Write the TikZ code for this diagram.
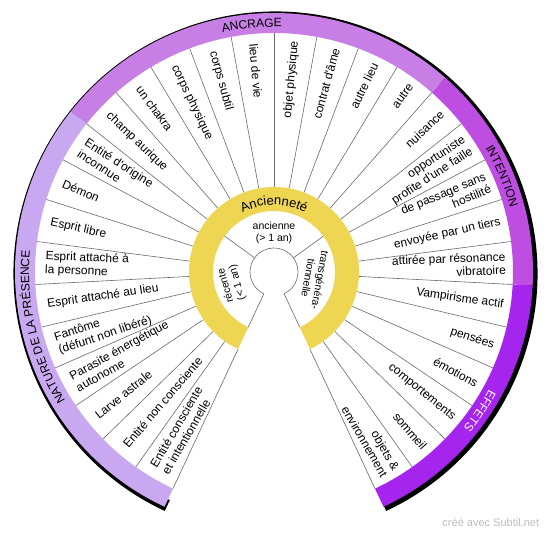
\documentclass[tikz,border=0pt]{standalone}
\usepackage{fontspec}
\setmainfont{Liberation Sans}
\usetikzlibrary{decorations.text}
\definecolor{ancrage}{HTML}{C77EE5}
\definecolor{nature}{HTML}{C8A9F1}
\definecolor{intention}{HTML}{BE4DE2}
\definecolor{effets}{HTML}{A524EE}
\definecolor{anciennete}{HTML}{EED653}
\definecolor{trait}{HTML}{6A6A6A}
\definecolor{credit}{HTML}{BDBDBD}

\begin{document}
\begin{tikzpicture}[x=1pt, y=1pt,
  sep/.style={draw=trait, line width=0.6pt},
  lbl/.style={font=\fontsize{12}{13.5}\selectfont, inner sep=0pt},
  petit/.style={font=\fontsize{10.5}{12}\selectfont, inner sep=0pt, align=center},
  bandtxt/.style={decorate, decoration={text along path, text align=center, text={#1}}}
]
  \useasboundingbox (-274,-262) rectangle (276,272);
  \fill[white] (-274,-262) rectangle (276,272);
  % shadow of the outer band
  \fill[black, shift={(1.5,-1.5)}] (-65:250) arc[start angle=-65, end angle=245, radius=250]
     -- (245:262) arc[start angle=245, end angle=-65, radius=262] -- cycle;
  % sector lines
  \foreach \k in {0,...,30}{
    \pgfmathsetmacro\ang{-65+\k*310/30}
    \draw[sep] (\ang:85) -- (\ang:239);}
  % ring of age
  \fill[anciennete] (-65:61) arc[start angle=-65, end angle=245, radius=61]
     -- (245:85) arc[start angle=245, end angle=-65, radius=85] -- cycle;
  \foreach \ang in {-65,36,144,245}{\draw[sep] (\ang:24) -- (\ang:61);}
  \draw[sep] (-65:24) arc[start angle=-65, end angle=245, radius=24];
  % outer bands
  \foreach \a/\b/\c in {-65/-3/effets, -3/48.667/intention, 48.667/141.667/ancrage, 141.667/245/nature}{
    \fill[\c] (\a:239) arc[start angle=\a, end angle=\b, radius=239]
       -- (\b:259) arc[start angle=\b, end angle=\a, radius=259] -- cycle;}
  \path[bandtxt={|\fontsize{12}{12}\selectfont|ANCRAGE}] (141.667:245) arc[start angle=141.667, end angle=48.667, radius=245];
  \path[bandtxt={|\fontsize{12}{12}\selectfont|INTENTION}] (48.667:245) arc[start angle=48.667, end angle=-3, radius=245];
  \path[bandtxt={|\fontsize{12}{12}\selectfont\color{white}|EFFETS}] (-3:245) arc[start angle=-3, end angle=-65, radius=245];
  \path[bandtxt={|\fontsize{12}{12}\selectfont|NATURE DE LA PRÉSENCE}] (245:245) arc[start angle=245, end angle=141.667, radius=245];
  \path[bandtxt={|\fontsize{13}{13}\selectfont|Ancienneté}] (160:67) arc[start angle=160, end angle=20, radius=67];
  % right half: read outwards
  \foreach \k/\txt in {0/{objets \&\\environnement}, 1/sommeil, 2/comportements, 3/émotions, 4/pensées,
      5/Vampirisme actif, 6/{attirée par résonance\\vibratoire}, 7/envoyée par un tiers,
      8/{de passage sans\\hostilité}, 9/{opportuniste\\profite d\textquotesingle une faille}, 10/nuisance,
      11/autre, 12/autre lieu, 13/contrat d\textquotesingle âme, 14/objet physique}{
    \pgfmathsetmacro\ang{-65+(\k+0.5)*310/30}
    \node[lbl, anchor=east, align=right, rotate=\ang] (s\k) at (\ang:232) {\txt};}
  % left half: read inwards
  \foreach \k/\txt in {15/lieu de vie, 16/corps subtil, 17/corps physique, 18/un chakra, 19/champ aurique,
      20/{Entité d\textquotesingle origine\\inconnue}, 21/Démon, 22/Esprit libre, 23/{Esprit attaché à\\la personne},
      24/Esprit attaché au lieu, 25/{Fantôme\\(défunt non libéré)}, 26/{Parasite énergétique\\autonome},
      27/Larve astrale, 28/Entité non consciente, 29/{Entité consciente\\et intentionnelle}}{
    \pgfmathsetmacro\ang{-65+(\k+0.5)*310/30}
    \pgfmathsetmacro\rot{\ang-180}
    \node[lbl, anchor=west, align=left, rotate=\rot] (s\k) at (\ang:229) {\txt};}
  % inner labels
  \node[petit] (anc) at (90:39) {ancienne\\(> 1 an)};
  \node[petit, rotate=106] (rec) at (196:44) {récente\\(< 1 an)};
  \node[petit, rotate=-100] (tra) at (-10:41) {transgénéra-\\tionnelle};
  \node[font=\fontsize{11}{11}\selectfont, text=credit] (credit) at (216.8,-250.3) {créé avec Subtil.net};
\end{tikzpicture}
\end{document}
